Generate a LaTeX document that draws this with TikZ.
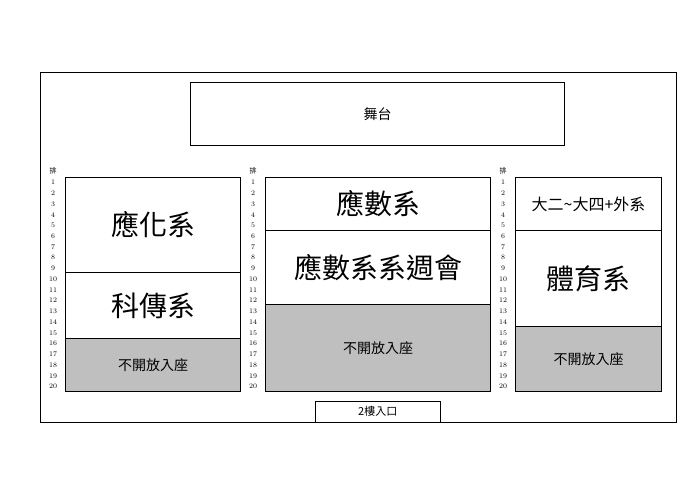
\documentclass[tikz,border=0pt]{standalone}
\usepackage{fontspec}
\newfontfamily\cjk{Noto Sans CJK TC}
\tikzset{
	sect/.style={draw, line width=1.1pt, anchor=north west, inner sep=0pt, font=\cjk},
	shut/.style={sect, fill=black!25, font=\cjk\fontsize{14}{14}\selectfont},
	big/.style={font=\cjk\fontsize{28}{28}\selectfont},
	rownum/.style={font=\fontsize{7}{7}\selectfont, inner sep=0pt}
}
\begin{document}
\begin{tikzpicture}[x=1pt,y=-1pt]
	\useasboundingbox (0,0) rectangle (700,495);
	\node[draw, line width=1.1pt, anchor=north west, minimum width=636pt, minimum height=350pt] (hall) at (40,72){};
	\node[sect, minimum width=374pt, minimum height=63pt, font=\cjk\fontsize{14}{14}\selectfont] (stage) at (190,82){舞台};
	% left block
	\node[sect, big, minimum width=175pt, minimum height=95pt] (chem) at (65,177){應化系};
	\node[sect, big, minimum width=175pt, minimum height=66pt] (comm) at (65,272){科傳系};
	\node[shut, minimum width=175pt, minimum height=53pt] (shutL) at (65,338){不開放入座};
	% middle block
	\node[sect, big, minimum width=225pt, minimum height=53pt] (math) at (265,177){應數系};
	\node[sect, big, minimum width=225pt, minimum height=74pt] (mathmeet) at (265,230){應數系系週會};
	\node[shut, minimum width=225pt, minimum height=87pt] (shutM) at (265,304){不開放入座};
	% right block
	\node[sect, minimum width=146pt, minimum height=53pt, font=\cjk\fontsize{16}{16}\selectfont] (other) at (515,177){大二\textasciitilde 大四+外系};
	\node[sect, big, minimum width=146pt, minimum height=96pt] (pe) at (515,230){體育系};
	\node[shut, minimum width=146pt, minimum height=65pt] (shutR) at (515,326){不開放入座};
	\node[draw, anchor=north west, minimum width=125pt, minimum height=21pt, inner sep=0pt, font=\cjk\fontsize{11}{11}\selectfont] (door) at (315,401){2樓入口};
	% row numbers
	\foreach \x/\n in {53/L, 253/M, 503/R}{
		\node[rownum, font=\cjk\fontsize{7}{7}\selectfont] (head\n) at (\x,171){排};
		\foreach \r in {1,...,20}
			\node[rownum] (r\n\r) at (\x,{182.5+(\r-1)*10.74}){\r};
	}
\end{tikzpicture}
\end{document}
